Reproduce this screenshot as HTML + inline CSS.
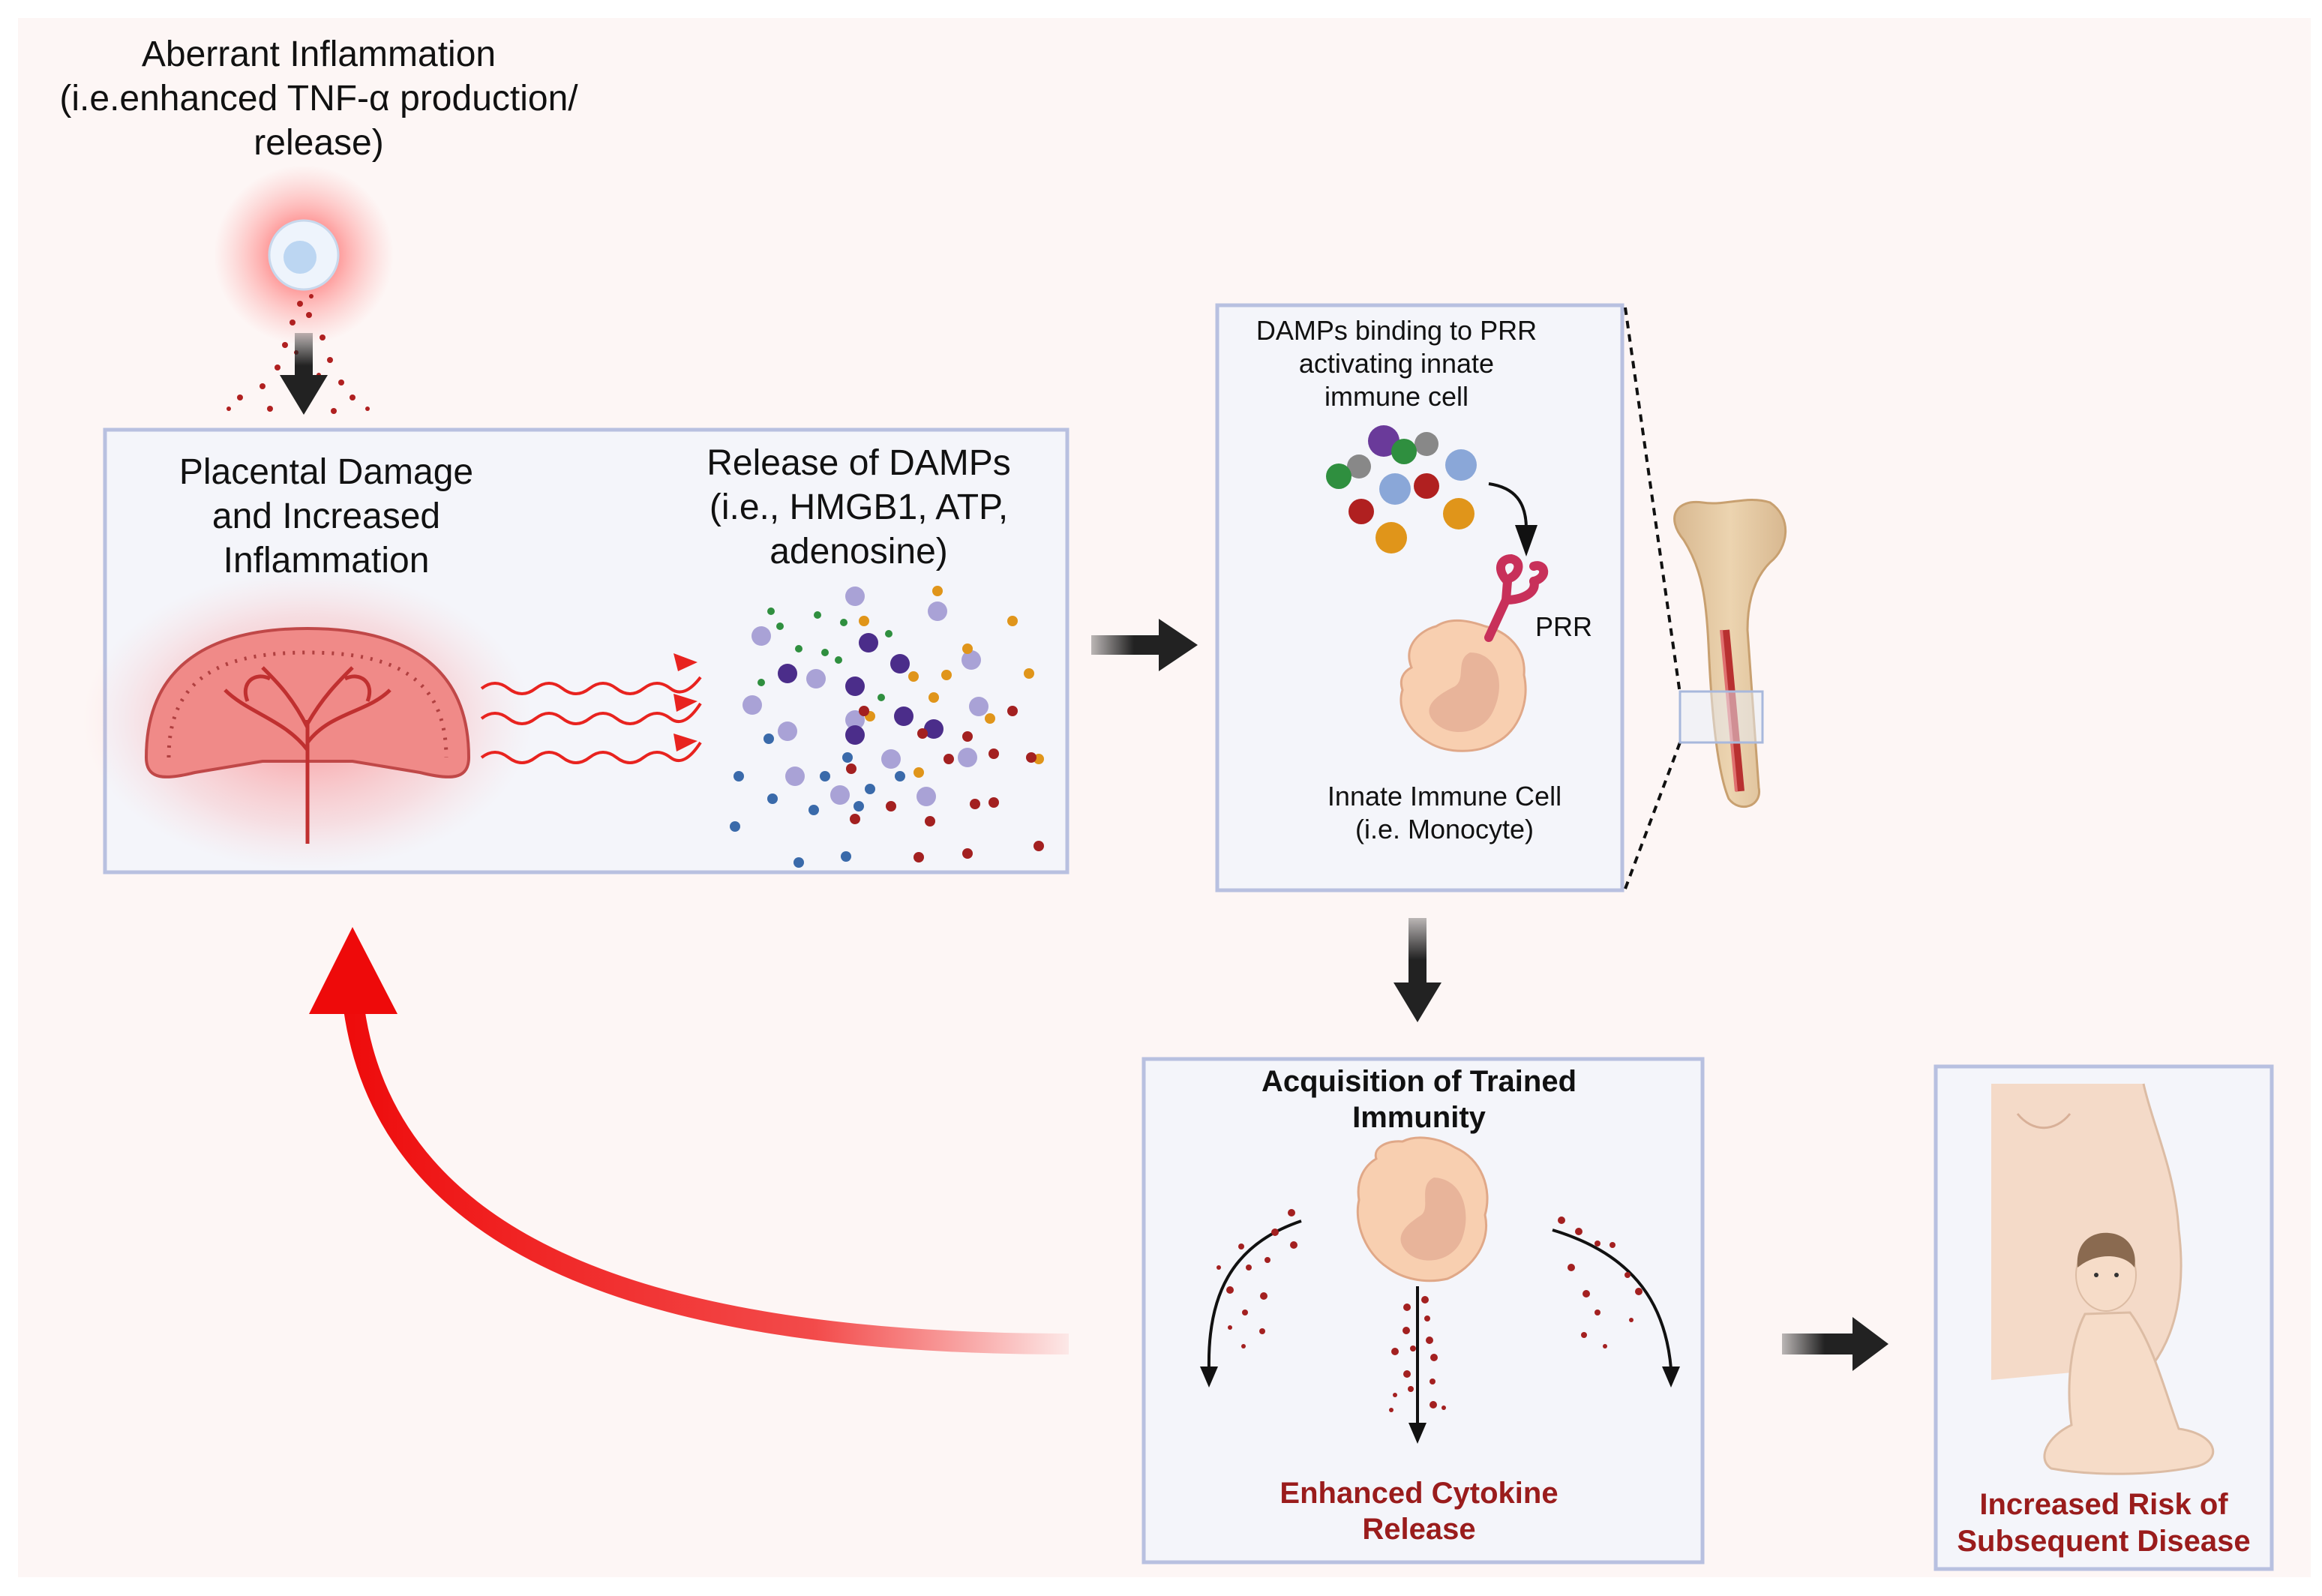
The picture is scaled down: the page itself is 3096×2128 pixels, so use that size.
<!DOCTYPE html>
<html><head><meta charset="utf-8"><style>
html,body{margin:0;padding:0;background:#fff;}
svg{display:block;}
text{font-family:"Liberation Sans",sans-serif;}
</style></head><body>
<svg width="3096" height="2128" viewBox="0 0 3096 2128" xmlns="http://www.w3.org/2000/svg">
<defs>
<radialGradient id="glow"><stop offset="0" stop-color="#ff3030" stop-opacity="0.9"/><stop offset="0.5" stop-color="#ff5050" stop-opacity="0.4"/><stop offset="1" stop-color="#ff8080" stop-opacity="0"/></radialGradient>
<radialGradient id="pglow"><stop offset="0" stop-color="#ff4040" stop-opacity="0.55"/><stop offset="0.7" stop-color="#ff8080" stop-opacity="0.2"/><stop offset="1" stop-color="#ffb0b0" stop-opacity="0"/></radialGradient>
<linearGradient id="redarr" x1="1430" y1="0" x2="450" y2="0" gradientUnits="userSpaceOnUse"><stop offset="0" stop-color="#f01010" stop-opacity="0.05"/><stop offset="0.35" stop-color="#f02020" stop-opacity="0.8"/><stop offset="1" stop-color="#ee0a0a"/></linearGradient>
<linearGradient id="arrR" x1="0" x2="1"><stop offset="0" stop-color="#222" stop-opacity="0.3"/><stop offset="0.4" stop-color="#222"/></linearGradient>
<linearGradient id="arrD" x1="0" y1="0" x2="0" y2="1"><stop offset="0" stop-color="#222" stop-opacity="0.3"/><stop offset="0.4" stop-color="#222"/></linearGradient>
<linearGradient id="bone" x1="0" x2="1"><stop offset="0" stop-color="#d8b890"/><stop offset="0.5" stop-color="#ecd4b0"/><stop offset="1" stop-color="#d8b890"/></linearGradient>
</defs>
<rect x="24" y="24" width="3057" height="2079" fill="#fdf6f5"/>

<g font-size="48" fill="#111" text-anchor="middle">
<text x="425" y="88">Aberrant Inflammation</text>
<text x="425" y="147">(i.e.enhanced TNF-α production/</text>
<text x="425" y="206">release)</text>
</g>
<circle cx="405" cy="340" r="120" fill="url(#glow)"/>
<circle cx="405" cy="340" r="46" fill="#eef4fc" stroke="#c8d8ec" stroke-width="3"/>
<circle cx="400" cy="343" r="22" fill="#bcd6f2"/>
<g fill="#b02020">
<circle cx="400" cy="405" r="4"/><circle cx="412" cy="420" r="4"/><circle cx="390" cy="430" r="4"/><circle cx="380" cy="460" r="4"/><circle cx="430" cy="450" r="4"/><circle cx="370" cy="490" r="4"/><circle cx="440" cy="480" r="4"/><circle cx="350" cy="515" r="4"/><circle cx="455" cy="510" r="4"/><circle cx="320" cy="530" r="4"/><circle cx="470" cy="530" r="4"/><circle cx="360" cy="545" r="4"/><circle cx="445" cy="548" r="4"/><circle cx="305" cy="545" r="3"/><circle cx="490" cy="545" r="3"/><circle cx="415" cy="395" r="3"/><circle cx="395" cy="470" r="3"/><circle cx="425" cy="500" r="3"/>
</g>
<path d="M393 444 H417 V500 H437 L405 553 L373 500 H393 Z" fill="url(#arrD)"/>

<rect x="140" y="573" width="1283" height="590" fill="#f4f5fa" stroke="#b8c0e0" stroke-width="5"/>
<g font-size="48" fill="#111" text-anchor="middle">
<text x="435" y="645">Placental Damage</text>
<text x="435" y="704">and Increased</text>
<text x="435" y="763">Inflammation</text>
<text x="1145" y="633">Release of DAMPs</text>
<text x="1145" y="692">(i.e., HMGB1, ATP,</text>
<text x="1145" y="751">adenosine)</text>
</g>
<ellipse cx="410" cy="960" rx="300" ry="200" fill="url(#pglow)"/>
<path d="M195 1010 C195 880 290 838 410 838 C530 838 625 880 625 1010 C625 1040 600 1040 560 1030 L470 1015 L350 1015 L260 1030 C220 1040 195 1040 195 1010 Z" fill="#f08a88" stroke="#c04848" stroke-width="4"/>
<path d="M225 1010 C225 900 300 870 410 870 C520 870 595 900 595 1010" fill="none" stroke="#b04040" stroke-width="5" stroke-dasharray="3 10"/>
<g stroke="#c03030" stroke-width="5" fill="none">
<path d="M410 1125 V960 M410 1000 C380 960 330 950 300 920 M410 990 C440 950 490 950 520 920 M410 970 C390 930 370 910 350 890 M410 965 C430 930 450 910 470 890 M330 935 C320 910 340 895 360 905 M490 935 C500 910 480 895 460 905"/>
</g>
<g stroke="#e8231f" stroke-width="4" fill="none">
<path d="M642 918 q18 -14 36 0 t36 0 t36 0 t36 0 t36 0 t36 0 t36 0 t40 -15"/>
<path d="M642 958 q18 -14 36 0 t36 0 t36 0 t36 0 t36 0 t36 0 t36 0 t40 -20"/>
<path d="M642 1010 q18 -14 36 0 t36 0 t36 0 t36 0 t36 0 t36 0 t36 0 t40 -20"/>
</g>
<g fill="#e8231f"><path d="M930 883 l-32 -12 l6 24 Z"/><path d="M930 935 l-32 -10 l4 24 Z"/><path d="M930 988 l-32 -10 l4 24 Z"/></g>
<g>
<g fill="#a9a2d6"><circle cx="1015" cy="848" r="13"/><circle cx="1140" cy="795" r="13"/><circle cx="1250" cy="815" r="13"/><circle cx="1088" cy="905" r="13"/><circle cx="1295" cy="880" r="13"/><circle cx="1003" cy="940" r="13"/><circle cx="1060" cy="1035" r="13"/><circle cx="1188" cy="1012" r="13"/><circle cx="1305" cy="942" r="13"/><circle cx="1120" cy="1060" r="13"/><circle cx="1235" cy="1062" r="13"/><circle cx="1290" cy="1010" r="13"/><circle cx="1050" cy="975" r="13"/><circle cx="1140" cy="960" r="13"/></g>
<g fill="#4b2d8a"><circle cx="1158" cy="857" r="13"/><circle cx="1140" cy="915" r="13"/><circle cx="1200" cy="885" r="13"/><circle cx="1050" cy="898" r="13"/><circle cx="1245" cy="972" r="13"/><circle cx="1140" cy="980" r="13"/><circle cx="1205" cy="955" r="13"/></g>
<g fill="#2f8f3f"><circle cx="1028" cy="815" r="5"/><circle cx="1090" cy="820" r="5"/><circle cx="1125" cy="830" r="5"/><circle cx="1185" cy="845" r="5"/><circle cx="1118" cy="880" r="5"/><circle cx="1065" cy="865" r="5"/><circle cx="1015" cy="910" r="5"/><circle cx="1100" cy="870" r="5"/><circle cx="1175" cy="930" r="5"/><circle cx="1040" cy="835" r="5"/></g>
<g fill="#e0951a"><circle cx="1250" cy="788" r="7"/><circle cx="1350" cy="828" r="7"/><circle cx="1152" cy="828" r="7"/><circle cx="1290" cy="865" r="7"/><circle cx="1218" cy="902" r="7"/><circle cx="1262" cy="900" r="7"/><circle cx="1245" cy="930" r="7"/><circle cx="1372" cy="898" r="7"/><circle cx="1320" cy="958" r="7"/><circle cx="1385" cy="1012" r="7"/><circle cx="1225" cy="1030" r="7"/><circle cx="1160" cy="955" r="7"/></g>
<g fill="#a32020"><circle cx="1152" cy="948" r="7"/><circle cx="1230" cy="978" r="7"/><circle cx="1290" cy="982" r="7"/><circle cx="1350" cy="948" r="7"/><circle cx="1265" cy="1012" r="7"/><circle cx="1135" cy="1025" r="7"/><circle cx="1188" cy="1075" r="7"/><circle cx="1240" cy="1095" r="7"/><circle cx="1300" cy="1072" r="7"/><circle cx="1325" cy="1070" r="7"/><circle cx="1375" cy="1010" r="7"/><circle cx="1225" cy="1143" r="7"/><circle cx="1290" cy="1138" r="7"/><circle cx="1385" cy="1128" r="7"/><circle cx="1140" cy="1092" r="7"/><circle cx="1325" cy="1005" r="7"/></g>
<g fill="#3a6aaa"><circle cx="985" cy="1035" r="7"/><circle cx="1030" cy="1065" r="7"/><circle cx="980" cy="1102" r="7"/><circle cx="1085" cy="1080" r="7"/><circle cx="1100" cy="1035" r="7"/><circle cx="1145" cy="1075" r="7"/><circle cx="1130" cy="1010" r="7"/><circle cx="1025" cy="985" r="7"/><circle cx="1065" cy="1150" r="7"/><circle cx="1128" cy="1142" r="7"/><circle cx="1160" cy="1052" r="7"/><circle cx="1200" cy="1035" r="7"/></g>
</g>

<path d="M1455 847 H1545 V825 L1597 860 L1545 895 V873 H1455 Z" fill="url(#arrR)"/>

<rect x="1623" y="407" width="540" height="780" fill="#f4f5fa" stroke="#b8c0e0" stroke-width="5"/>
<g font-size="36" fill="#111" text-anchor="middle">
<text x="1862" y="453">DAMPs binding to PRR</text>
<text x="1862" y="497">activating innate</text>
<text x="1862" y="541">immune cell</text>
<text x="2085" y="848">PRR</text>
<text x="1926" y="1074">Innate Immune Cell</text>
<text x="1926" y="1118">(i.e. Monocyte)</text>
</g>
<circle cx="1845" cy="588" r="21" fill="#6a3a9a"/><circle cx="1812" cy="622" r="16" fill="#888"/><circle cx="1785" cy="635" r="17" fill="#2f8f3f"/><circle cx="1902" cy="592" r="16" fill="#888"/><circle cx="1872" cy="602" r="17" fill="#2f8f3f"/><circle cx="1948" cy="620" r="21" fill="#8aa7d8"/><circle cx="1860" cy="652" r="21" fill="#8aa7d8"/><circle cx="1902" cy="648" r="17" fill="#b02020"/><circle cx="1815" cy="682" r="17" fill="#b02020"/><circle cx="1945" cy="685" r="21" fill="#e0951a"/><circle cx="1855" cy="717" r="21" fill="#e0951a"/>
<path d="M1985 645 C2020 650 2035 670 2035 705" fill="none" stroke="#111" stroke-width="4"/>
<path d="M2020 700 L2050 700 L2035 742 Z" fill="#111"/>
<path d="M1882 890 C1870 860 1895 840 1915 835 C1935 822 1960 828 1980 835 C2010 842 2035 865 2032 900 C2040 935 2025 975 1995 990 C1970 1005 1930 1005 1905 990 C1878 975 1862 945 1870 920 C1865 905 1872 895 1882 890 Z" fill="#f8cfb0" stroke="#e0a888" stroke-width="3"/>
<path d="M1960 870 C1995 870 2010 910 1990 950 C1975 980 1930 985 1910 960 C1895 940 1920 925 1940 915 C1955 905 1940 880 1960 870 Z" fill="#e8b49a"/>
<g stroke="#c8305a" stroke-width="12" fill="none" stroke-linecap="round">
<path d="M1985 850 L2008 800 L2010 775"/><path d="M2008 800 C2030 800 2050 790 2045 775"/><path d="M2010 775 C1995 760 2000 745 2015 745 C2030 748 2025 765 2015 770"/><path d="M2045 775 C2065 770 2060 750 2045 755"/>
</g>
<line x1="2167" y1="410" x2="2240" y2="925" stroke="#111" stroke-width="4" stroke-dasharray="10 8"/>
<line x1="2167" y1="1185" x2="2240" y2="990" stroke="#111" stroke-width="4" stroke-dasharray="10 8"/>
<path d="M2245 720 C2220 690 2235 665 2270 670 C2300 675 2330 660 2360 670 C2390 690 2385 730 2360 750 C2340 770 2330 800 2330 840 L2345 1050 C2350 1075 2320 1085 2305 1065 C2290 1030 2282 950 2278 860 C2275 800 2270 760 2245 720 Z" fill="url(#bone)" stroke="#c8a070" stroke-width="3"/>
<path d="M2300 840 L2320 1055" stroke="#b83030" stroke-width="12"/>
<path d="M2295 840 L2315 1055" stroke="#e07070" stroke-width="4"/>
<rect x="2240" y="922" width="110" height="68" fill="#e8eef8" fill-opacity="0.5" stroke="#a8b8dc" stroke-width="3"/>

<path d="M1878 1224 H1902 V1310 H1922 L1890 1363 L1858 1310 H1878 Z" fill="url(#arrD)"/>

<path d="M1425 1792 C900 1792 520 1680 472 1345" fill="none" stroke="url(#redarr)" stroke-width="28"/>
<path d="M470 1236 L412 1352 L530 1352 Z" fill="#ee0a0a"/>

<rect x="1525" y="1412" width="745" height="671" fill="#f4f5fa" stroke="#b8c0e0" stroke-width="5"/>
<g font-size="40" font-weight="bold" fill="#111" text-anchor="middle">
<text x="1892" y="1455">Acquisition of Trained</text>
<text x="1892" y="1503">Immunity</text>
</g>
<g font-size="40" font-weight="bold" fill="#9a1c1c" text-anchor="middle">
<text x="1892" y="2004">Enhanced Cytokine</text>
<text x="1892" y="2052">Release</text>
</g>
<path d="M1835 1545 C1830 1530 1850 1520 1870 1522 C1890 1512 1920 1518 1940 1530 C1975 1545 1990 1585 1980 1620 C1988 1655 1965 1690 1930 1705 C1900 1712 1870 1705 1850 1690 C1820 1670 1805 1630 1812 1600 C1808 1575 1818 1555 1835 1545 Z" fill="#f8cfb0" stroke="#e0a888" stroke-width="3"/>
<path d="M1912 1570 C1950 1572 1962 1615 1950 1650 C1938 1685 1890 1690 1872 1665 C1858 1645 1880 1630 1895 1620 C1908 1610 1890 1580 1912 1570 Z" fill="#e8b49a"/>
<g fill="none" stroke="#111" stroke-width="4">
<path d="M1735 1628 C1640 1660 1610 1730 1612 1825"/>
<path d="M2070 1640 C2170 1670 2220 1730 2228 1825"/>
<path d="M1890 1715 V1900"/>
</g>
<g fill="#111"><path d="M1600 1822 L1624 1822 L1612 1850 Z"/><path d="M2216 1822 L2240 1822 L2228 1850 Z"/><path d="M1878 1897 L1902 1897 L1890 1925 Z"/></g>
<g fill="#a32020">
<circle cx="1722" cy="1617" r="5"/><circle cx="1700" cy="1643" r="5"/><circle cx="1725" cy="1660" r="5"/><circle cx="1655" cy="1662" r="4"/><circle cx="1665" cy="1690" r="4"/><circle cx="1690" cy="1680" r="4"/><circle cx="1640" cy="1720" r="5"/><circle cx="1685" cy="1728" r="5"/><circle cx="1625" cy="1690" r="3"/><circle cx="1683" cy="1775" r="4"/><circle cx="1660" cy="1750" r="4"/><circle cx="1640" cy="1770" r="3"/><circle cx="1658" cy="1795" r="3"/>
<circle cx="2082" cy="1627" r="5"/><circle cx="2105" cy="1642" r="5"/><circle cx="2130" cy="1658" r="4"/><circle cx="2150" cy="1660" r="4"/><circle cx="2095" cy="1690" r="5"/><circle cx="2170" cy="1700" r="4"/><circle cx="2115" cy="1725" r="5"/><circle cx="2185" cy="1722" r="5"/><circle cx="2130" cy="1750" r="4"/><circle cx="2175" cy="1760" r="3"/><circle cx="2112" cy="1780" r="4"/><circle cx="2140" cy="1795" r="3"/>
<circle cx="1900" cy="1733" r="5"/><circle cx="1876" cy="1743" r="5"/><circle cx="1903" cy="1758" r="4"/><circle cx="1875" cy="1774" r="5"/><circle cx="1906" cy="1787" r="5"/><circle cx="1860" cy="1802" r="5"/><circle cx="1884" cy="1798" r="4"/><circle cx="1912" cy="1810" r="5"/><circle cx="1876" cy="1832" r="5"/><circle cx="1910" cy="1842" r="4"/><circle cx="1860" cy="1860" r="3"/><circle cx="1881" cy="1852" r="4"/><circle cx="1911" cy="1873" r="5"/><circle cx="1925" cy="1877" r="3"/><circle cx="1855" cy="1880" r="3"/>
</g>

<path d="M2376 1778 H2470 V1756 L2518 1792 L2470 1828 V1806 H2376 Z" fill="url(#arrR)"/>

<rect x="2581" y="1422" width="448" height="670" fill="#f4f5fa" stroke="#b8c0e0" stroke-width="5"/>
<path d="M2655 1445 L2858 1445 C2870 1500 2900 1560 2905 1640 C2915 1720 2900 1780 2870 1820 L2655 1840 Z" fill="#f4dac8"/>
<path d="M2690 1485 C2710 1510 2740 1510 2760 1485" fill="none" stroke="#d8b098" stroke-width="3"/>
<path d="M2858 1445 C2870 1500 2900 1560 2905 1640 C2915 1720 2900 1780 2870 1820" fill="none" stroke="#dcbca4" stroke-width="3"/>
<ellipse cx="2808" cy="1700" rx="40" ry="48" fill="#f6dcc8" stroke="#dcbca4" stroke-width="2"/>
<path d="M2770 1690 C2767 1655 2790 1642 2812 1644 C2838 1646 2850 1668 2846 1690 C2833 1672 2800 1670 2777 1685 Z" fill="#8a6a50"/>
<circle cx="2795" cy="1700" r="3" fill="#333"/><circle cx="2822" cy="1700" r="3" fill="#333"/>
<path d="M2780 1752 C2760 1790 2755 1850 2762 1900 C2730 1915 2715 1945 2735 1958 C2790 1968 2870 1968 2930 1955 C2965 1945 2955 1912 2905 1905 C2885 1850 2870 1790 2840 1750 Z" fill="#f6dcc8" stroke="#dcbca4" stroke-width="3"/>
<g font-size="40" font-weight="bold" fill="#9a1c1c" text-anchor="middle">
<text x="2805" y="2019">Increased Risk of</text>
<text x="2805" y="2068">Subsequent Disease</text>
</g>
</svg>
</body></html>
